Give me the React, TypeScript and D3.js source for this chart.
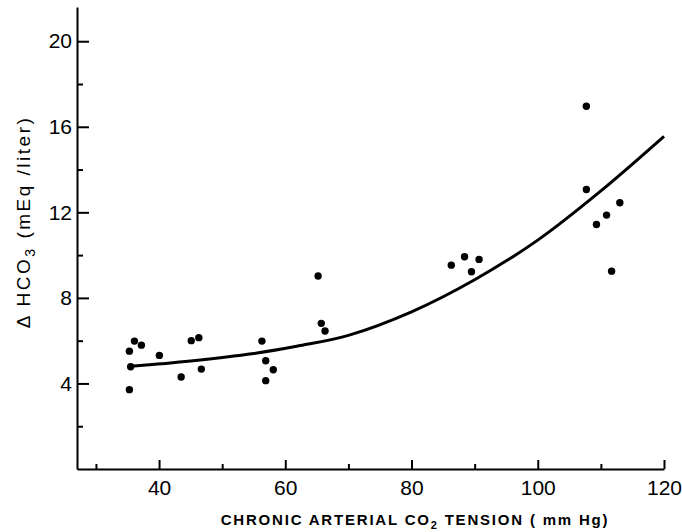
import React, { useEffect, useRef } from 'react';
import * as d3 from 'd3';

// observed points: chronic PaCO2 (mm Hg) vs delta HCO3 (mEq/liter)
const pco2 = [35.3, 36.1, 37.2, 35.5, 35.3, 40.05, 43.5, 45.1, 46.3, 46.7, 56.3, 56.9, 58.1, 56.9,
  65.2, 65.7, 66.3, 86.3, 88.4, 90.7, 89.5, 107.7, 107.7, 113.0, 110.9, 109.3, 111.7];
const dHco3 = [5.51, 5.98, 5.79, 4.78, 3.71, 5.31, 4.30, 6.0, 6.14, 4.67, 5.98, 5.06, 4.64, 4.13,
  9.02, 6.81, 6.45, 9.53, 9.92, 9.8, 9.22, 16.96, 13.07, 12.45, 11.87, 11.43, 9.25];

// fitted curve
const curveX = [35.5, 45, 55, 62, 70, 80, 90, 100, 110, 120];
const curveY = [4.8, 5.05, 5.4, 5.75, 6.25, 7.35, 8.85, 10.7, 13.0, 15.55];

const xMajor = [40, 60, 80, 100, 120];
const xMinor = [30, 50, 70, 90, 110];
const yMajor = [4, 8, 12, 16, 20];
const yMinor = [2, 6, 10, 14, 18];

export default function App() {
  const ref = useRef<SVGSVGElement>(null);

  useEffect(() => {
    document.body.style.margin = '0';
    const w = 682;
    const h = 532;
    const svg = d3.select(ref.current);
    svg.selectAll('*').remove();

    const font = '"Liberation Sans", Arial, sans-serif';

    const x = d3.scaleLinear().domain([27, 120]).range([77, 664]);
    const y = d3.scaleLinear().domain([0, 21.6]).range([469, 7]);

    // x axis
    const gx = svg.append('g').attr('transform', `translate(0, ${y(0)})`);
    gx.call(d3.axisBottom(x).tickValues(xMajor).tickSize(-9).tickSizeOuter(0).tickPadding(11).tickFormat(d3.format('d')));
    gx.append('g').call(d3.axisBottom(x).tickValues(xMinor).tickSize(-5).tickFormat(() => ''))
      .select('.domain').remove();

    // y axis
    const gy = svg.append('g').attr('transform', `translate(${x(27)}, 0)`);
    gy.call(d3.axisLeft(y).tickValues(yMajor).tickSize(-12).tickSizeOuter(0).tickPadding(5).tickFormat(d3.format('d')));
    gy.append('g').call(d3.axisLeft(y).tickValues(yMinor).tickSize(-6).tickFormat(() => ''))
      .select('.domain').remove();

    svg.selectAll('.domain').attr('stroke', '#000').attr('stroke-width', 2);
    svg.selectAll('.tick line').attr('stroke', '#000').attr('stroke-width', 2);
    svg.selectAll('.tick text')
      .attr('font-family', font)
      .attr('font-size', 21)
      .attr('fill', '#000');

    // fitted curve
    const line = d3.line<number>()
      .x((d, i) => x(curveX[i]))
      .y(d => y(d))
      .curve(d3.curveCatmullRom.alpha(0.5));
    svg.append('path')
      .datum(curveY)
      .attr('d', line)
      .attr('fill', 'none')
      .attr('stroke', '#000')
      .attr('stroke-width', 3);

    // points
    svg.append('g')
      .selectAll('circle')
      .data(pco2)
      .join('circle')
      .attr('cx', d => x(d))
      .attr('cy', (d, i) => y(dHco3[i]))
      .attr('r', 3.7)
      .attr('fill', '#000');

    // x title
    const xt = svg.append('text')
      .attr('x', 415)
      .attr('y', 525)
      .attr('text-anchor', 'middle')
      .attr('font-family', font)
      .attr('font-weight', 'bold')
      .attr('font-size', 15)
      .attr('letter-spacing', 1.8)
      .attr('fill', '#000');
    xt.append('tspan').text('CHRONIC ARTERIAL  CO');
    xt.append('tspan').attr('dy', 4).attr('font-size', 11).text('2');
    xt.append('tspan').attr('dy', -4).text('  TENSION ( mm Hg)');

    // y title
    const yt = svg.append('text')
      .attr('transform', 'translate(30, 222) rotate(-90)')
      .attr('text-anchor', 'middle')
      .attr('font-family', font)
      .attr('font-size', 19)
      .attr('letter-spacing', 2.5)
      .attr('fill', '#000');
    yt.append('tspan').text('\u0394 HCO');
    yt.append('tspan').attr('dy', 5).attr('font-size', 14).text('3');
    yt.append('tspan').attr('dy', -5).text(' (mEq /liter)');

    svg.attr('width', w).attr('height', h);
  }, []);

  return <svg ref={ref} width={682} height={532} style={{ display: 'block', background: '#fff' }} />;
}
